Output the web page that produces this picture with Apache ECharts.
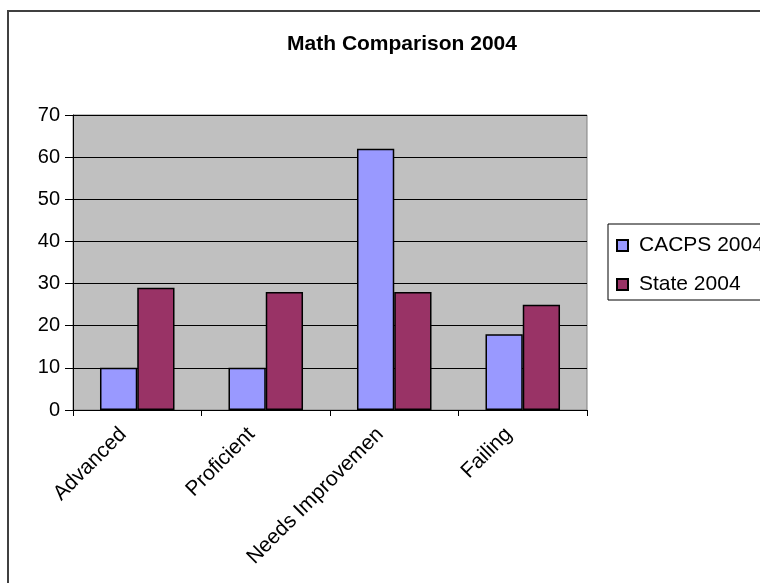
<!DOCTYPE html>
<html>
<head>
<meta charset="utf-8">
<script src="https://cdn.jsdelivr.net/npm/echarts@6/dist/echarts.min.js"></script>
<style>
html,body{margin:0;padding:0;background:#fff;}
#chart{width:760px;height:583px;}
</style>
</head>
<body>
<div id="chart"></div>
<script>
const categories = ['Advanced', 'Proficient', 'Needs Improvement', 'Failing'];
const cacps2004 = [10, 10, 62, 18];
const state2004 = [29, 28, 28, 25];
const yTicks = { min: 0, max: 70, interval: 10 };

const chart = echarts.init(document.getElementById('chart'), null, { renderer: 'canvas' });
const font = '"Liberation Sans", Arial, sans-serif';

chart.setOption({
  animation: false,
  backgroundColor: '#ffffff',
  title: {
    text: 'Math Comparison 2004',
    left: 397,
    textAlign: 'center',
    top: 29,
    textStyle: { fontFamily: font, fontSize: 21, fontWeight: 'bold', color: '#000' }
  },
  graphic: [{
    type: 'rect',
    shape: { x: 8, y: 11, width: 820, height: 620 },
    style: { fill: 'none', stroke: '#404040', lineWidth: 2 },
    silent: true,
    z: 100
  }],
  legend: {
    left: 608,
    top: 224,
    orient: 'vertical',
    padding: [11, 10, 5, 8],
    itemGap: 18,
    itemWidth: 11,
    itemHeight: 11,
    icon: 'rect',
    borderColor: '#000',
    borderWidth: 1,
    backgroundColor: '#fff',
    textStyle: { fontFamily: font, fontSize: 21, color: '#000', lineHeight: 21, width: 150, padding: [0, 0, 0, 6] },
    data: ['CACPS 2004', 'State 2004']
  },
  grid: {
    left: 73, top: 115, right: 173, bottom: 173,
    show: true,
    backgroundColor: '#C0C0C0',
    borderColor: '#808080',
    borderWidth: 1
  },
  xAxis: {
    type: 'category',
    data: categories,
    boundaryGap: true,
    axisLine: { show: true, lineStyle: { color: '#000', width: 1 } },
    axisTick: { show: true, length: 6, alignWithLabel: false, lineStyle: { color: '#000' } },
    axisLabel: {
      rotate: 45,
      interval: 0,
      margin: 7,
      padding: [0, 20, 0, 0],
      fontFamily: font,
      fontSize: 21,
      color: '#000',
      width: 185,
      overflow: 'truncate',
      ellipsis: ''
    }
  },
  yAxis: {
    type: 'value',
    min: yTicks.min,
    max: yTicks.max,
    interval: yTicks.interval,
    axisLine: { show: true, lineStyle: { color: '#000', width: 1 } },
    axisTick: { show: true, length: 8, lineStyle: { color: '#000' } },
    splitLine: { show: true, lineStyle: { color: '#000', width: 1 } },
    axisLabel: { margin: 13, fontFamily: font, fontSize: 20, color: '#000' }
  },
  series: [
    {
      name: 'CACPS 2004',
      type: 'bar',
      data: cacps2004,
      barGap: '0%',
      barCategoryGap: '42%',
      itemStyle: { color: '#9999FF', borderColor: '#000', borderWidth: 1.5 }
    },
    {
      name: 'State 2004',
      type: 'bar',
      data: state2004,
      barGap: '0%',
      barCategoryGap: '42%',
      itemStyle: { color: '#993366', borderColor: '#000', borderWidth: 1.5 }
    }
  ]
});
</script>
</body>
</html>
